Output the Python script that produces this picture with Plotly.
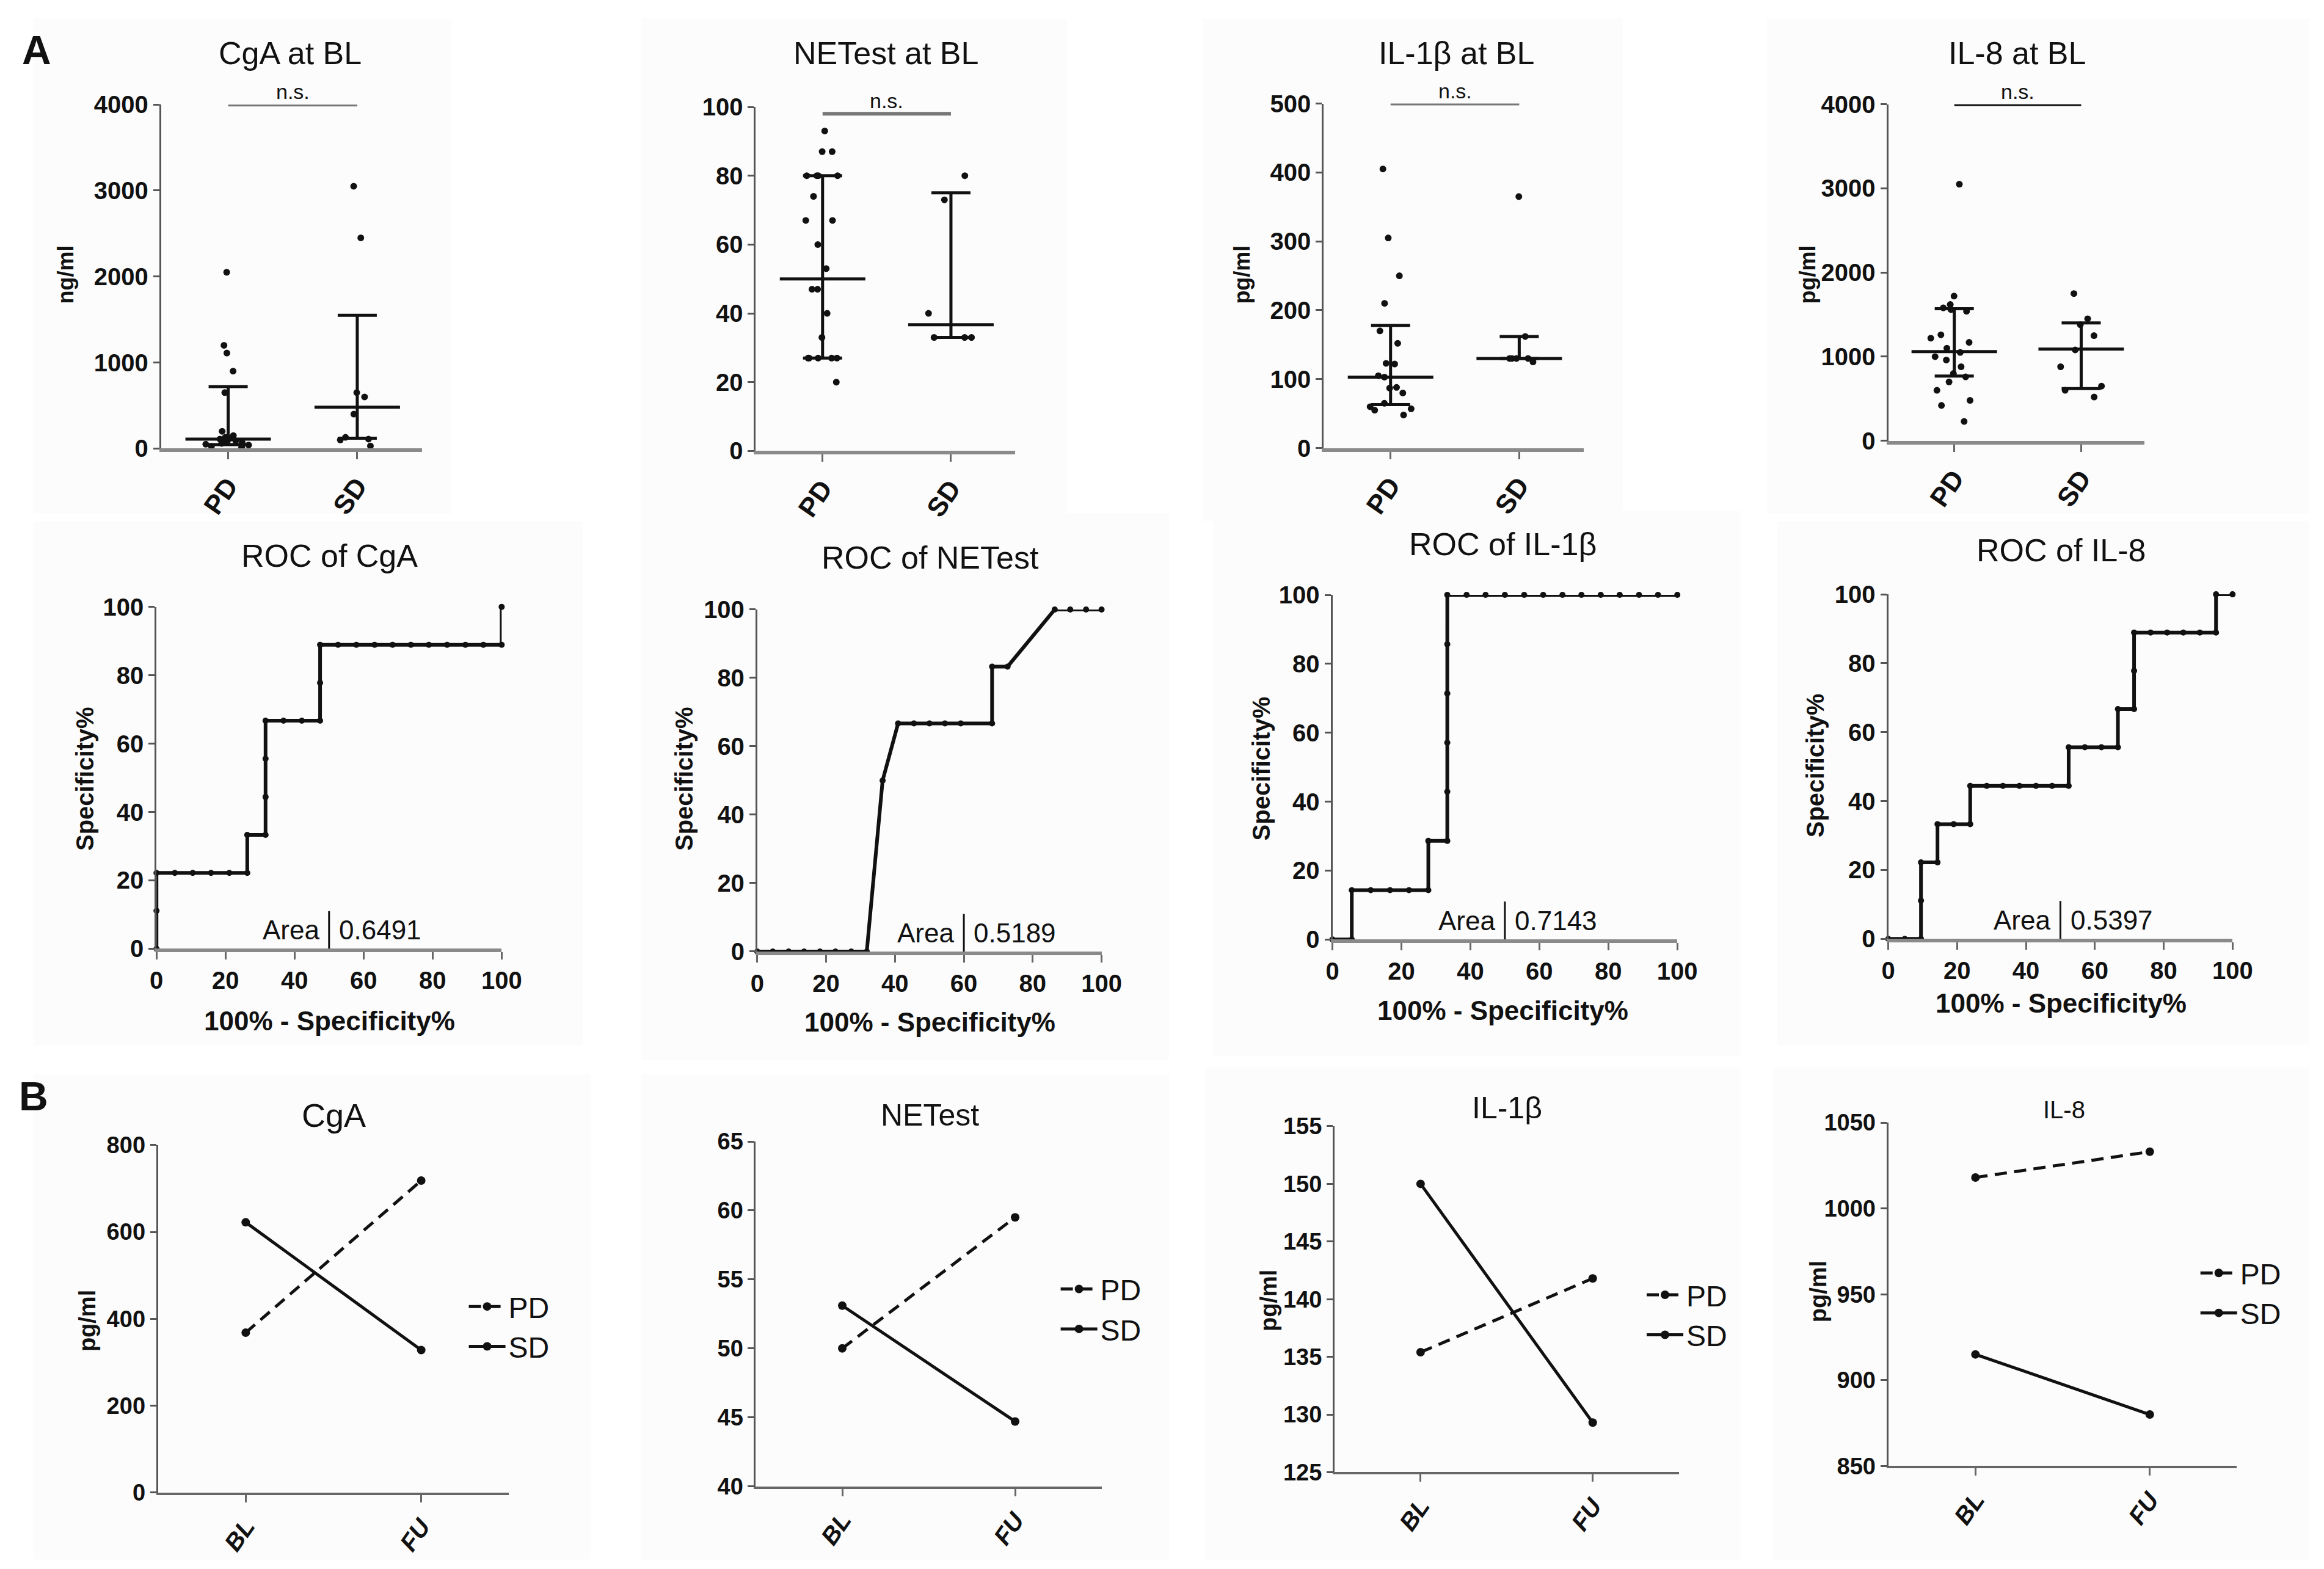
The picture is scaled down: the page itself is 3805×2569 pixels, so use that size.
import plotly.graph_objects as go

# ---------------- DATA ----------------
GROUPS = ["PD", "SD"]

# Row A1: scatter dot plots at baseline
CGA_PD = [2050, 1200, 1110, 900, 650, 200, 150, 130, 120, 110, 100, 90, 80, 70, 60, 50, 40, 25, 15]
CGA_SD = [3050, 2450, 650, 600, 400, 130, 110, 100, 30]
NET_PD = [93, 87, 87, 80, 80, 80, 80, 74, 67, 67, 60, 53, 47, 47, 40, 33, 27, 27, 27, 27, 27, 20]
NET_SD = [80, 73, 40, 33, 33, 33]
IL1_PD = [405, 305, 250, 210, 170, 152, 123, 122, 105, 103, 88, 87, 80, 65, 60, 57, 55, 48]
IL1_SD = [365, 162, 130, 130, 130, 130, 125]
IL8_PD = [3050, 1720, 1620, 1580, 1560, 1540, 1260, 1220, 1170, 1100, 1050, 1000, 960, 880, 800, 760, 700, 600, 480, 420, 230]
IL8_SD = [1750, 1450, 1380, 1250, 1080, 880, 650, 600, 520]

# medians and interquartile bars (PD, SD)
CGA_MED = [110, 480]
CGA_Q1 = [45, 120]
CGA_Q3 = [720, 1550]
NET_MED = [50, 36.7]
NET_Q1 = [27, 33]
NET_Q3 = [80, 75]
IL1_MED = [103, 130]
IL1_Q1 = [63, 130]
IL1_Q3 = [178, 162]
IL8_MED = [1060, 1090]
IL8_Q1 = [770, 620]
IL8_Q3 = [1570, 1400]

SCATTER_TITLES = ["CgA at BL", "NETest at BL", "IL-1β at BL", "IL-8 at BL"]
SCATTER_YLABELS = ["ng/ml", "", "pg/ml", "pg/ml"]
SCATTER_YMAX = [4000, 100, 500, 4000]
SCATTER_DTICK = [1000, 20, 100, 1000]
NS_LEVEL = [4000, 98, 500, 4000]

# Row A2: ROC curves (x = 100% - Specificity%, y = Specificity%)
ROC_CGA_X = [0, 0, 0, 5.3, 10.5, 15.8, 21.1, 26.3, 26.3, 31.6, 31.6, 31.6, 31.6, 36.8, 42.1, 47.4, 47.4, 47.4,
             52.6, 57.9, 63.2, 68.4, 73.7, 78.9, 84.2, 89.5, 94.7, 100, 100]
ROC_CGA_Y = [0, 11.1, 22.2, 22.2, 22.2, 22.2, 22.2, 22.2, 33.3, 33.3, 44.4, 55.6, 66.7, 66.7, 66.7, 66.7, 77.8, 88.9,
             88.9, 88.9, 88.9, 88.9, 88.9, 88.9, 88.9, 88.9, 88.9, 88.9, 100]
ROC_NET_X = [0, 4.5, 9.1, 13.6, 18.2, 22.7, 27.3, 31.8, 36.4, 40.9, 45.5, 50, 54.5, 59.1, 68.2, 68.2, 72.7, 86.4,
             90.9, 95.5, 100]
ROC_NET_Y = [0, 0, 0, 0, 0, 0, 0, 0, 50, 66.7, 66.7, 66.7, 66.7, 66.7, 66.7, 83.3, 83.3, 100, 100, 100, 100]
ROC_IL1_X = [0, 5.6, 5.6, 11.1, 16.7, 22.2, 27.8, 27.8, 33.3, 33.3, 33.3, 33.3, 33.3, 33.3, 38.9, 44.4, 50, 55.6,
             61.1, 66.7, 72.2, 77.8, 83.3, 88.9, 94.4, 100]
ROC_IL1_Y = [0, 0, 14.3, 14.3, 14.3, 14.3, 14.3, 28.6, 28.6, 42.9, 57.1, 71.4, 85.7, 100, 100, 100, 100, 100,
             100, 100, 100, 100, 100, 100, 100, 100]
ROC_IL8_X = [0, 4.8, 9.5, 9.5, 9.5, 14.3, 14.3, 19.0, 23.8, 23.8, 28.6, 33.3, 38.1, 42.9, 47.6, 52.4, 52.4, 57.1,
             61.9, 66.7, 66.7, 71.4, 71.4, 71.4, 76.2, 81.0, 85.7, 90.5, 95.2, 95.2, 100]
ROC_IL8_Y = [0, 0, 0, 11.1, 22.2, 22.2, 33.3, 33.3, 33.3, 44.4, 44.4, 44.4, 44.4, 44.4, 44.4, 44.4, 55.6, 55.6,
             55.6, 55.6, 66.7, 66.7, 77.8, 88.9, 88.9, 88.9, 88.9, 88.9, 88.9, 100, 100]
ROC_TITLES = ["ROC of CgA", "ROC of NETest", "ROC of IL-1β", "ROC of IL-8"]
ROC_AREA = ["0.6491", "0.5189", "0.7143", "0.5397"]
ROC_AREA_SEP = [50, 60, 50, 50]

# Row B: BL vs FU means
TIMEPOINTS = ["BL", "FU"]
B_TITLES = ["CgA", "NETest", "IL-1β", "IL-8"]
B_YLABELS = ["pg/ml", "", "pg/ml", "pg/ml"]
B_PD = [[368, 718], [50.0, 59.5], [135.4, 141.8], [1018, 1033]]
B_SD = [[622, 328], [53.1, 44.7], [150.0, 129.3], [915, 880]]
B_YRANGE = [[0, 800], [40, 65], [125, 155], [850, 1050]]
B_DTICK = [200, 5, 5, 50]

# ---------------- LAYOUT HELPERS ----------------
W, H = 3805, 2569
DW, DH = 1568.0, 1058.6   # reference coordinate frame


def px(X):
    return X / DW


def py(Y):
    return 1 - Y / DH


NARROW = "Liberation Sans Narrow, Arial Narrow, Liberation Sans, Arial"
SANS = "Liberation Sans, Arial"
BLACK = "#111111"

fig = go.Figure()
layout = dict(width=W, height=H, margin=dict(l=0, r=0, t=0, b=0),
              paper_bgcolor="white", plot_bgcolor="rgba(0,0,0,0)", showlegend=True)
annotations = []
shapes = []

# faint panel backgrounds
panels = [(15, 0, 300, 340), (430, 0, 720, 345), (813, 0, 1100, 345), (1198, 0, 1568, 340),
          (15, 345, 390, 705), (430, 340, 790, 715), (820, 338, 1180, 712), (1205, 345, 1568, 705),
          (15, 725, 395, 1058), (430, 725, 790, 1058), (815, 720, 1180, 1058), (1203, 720, 1568, 1058)]
for (x0, y0, x1, y1) in panels:
    shapes.append(dict(type="rect", xref="paper", yref="paper", x0=px(x0), x1=px(x1), y0=py(y1), y1=py(y0),
                       fillcolor="#fcfcfc", line=dict(width=0), layer="below"))

TICKFONT = dict(family=NARROW, size=40, color=BLACK, weight="bold")


def yaxis_cfg(dom, rng, dtick, anchor):
    return dict(domain=dom, range=rng, dtick=dtick, showgrid=False, zeroline=False, showline=True,
                linecolor="#555555", linewidth=3, ticks="outside", ticklen=10, tickwidth=3,
                tickcolor="#555555", tickfont=TICKFONT, anchor=anchor, fixedrange=True)


def text(x, y, s, size, bold=False, angle=0, family=NARROW, xanchor="center", yanchor="middle",
         xref="paper", yref="paper", color=BLACK):
    annotations.append(dict(x=x, y=y, xref=xref, yref=yref, text=s, showarrow=False, textangle=angle,
                            xanchor=xanchor, yanchor=yanchor,
                            font=dict(family=family, size=size, color=color,
                                      weight="bold" if bold else "normal")))


# ---------------- ROW A1 : scatter plots ----------------
sc_pd = [CGA_PD, NET_PD, IL1_PD, IL8_PD]
sc_sd = [CGA_SD, NET_SD, IL1_SD, IL8_SD]
sc_med = [CGA_MED, NET_MED, IL1_MED, IL8_MED]
sc_q1 = [CGA_Q1, NET_Q1, IL1_Q1, IL8_Q1]
sc_q3 = [CGA_Q3, NET_Q3, IL1_Q3, IL8_Q3]
sc_xdom = [(102, 280), (508, 685), (895.6, 1073), (1281, 1456)]
sc_ydom = [(59.2, 295.3), (60.8, 297), (58.5, 295), (59, 290)]
sc_title = [(190, 24), (597, 24), (986, 24), (1369, 24)]
sc_ylab = [(37, 176), None, (840, 176), (1226, 176)]
ns_color = ["#777777", "#777777", "#777777", BLACK]

for i in range(4):
    n = i + 1
    xa, ya = f"x{n}", f"y{n}"
    layout[f"xaxis{n}"] = dict(domain=[px(sc_xdom[i][0]), px(sc_xdom[i][1])], type="category",
                               categoryorder="array", categoryarray=GROUPS, range=[-0.52, 1.5],
                               showgrid=False, zeroline=False, showline=True, linecolor="#8a8a8a", linewidth=6,
                               ticks="outside", ticklen=12, tickwidth=3, tickcolor="#666666",
                               tickangle=-55, tickfont=dict(family=NARROW, size=44, color=BLACK, weight="bold"),
                               anchor=ya, fixedrange=True)
    layout[f"yaxis{n}"] = yaxis_cfg([py(sc_ydom[i][1]), py(sc_ydom[i][0])], [0, SCATTER_YMAX[i]],
                                    SCATTER_DTICK[i], xa)
    for g, vals in zip(GROUPS, [sc_pd[i], sc_sd[i]]):
        fig.add_trace(go.Box(y=vals, name=g, xaxis=xa, yaxis=ya, boxpoints="all", jitter=0.75, pointpos=0,
                             width=0.55, fillcolor="rgba(0,0,0,0)", line=dict(width=0, color="rgba(0,0,0,0)"),
                             marker=dict(color=BLACK, size=11), showlegend=False, hoverinfo="y"))
    med = sc_med[i]
    fig.add_trace(go.Scatter(
        x=GROUPS, y=med, xaxis=xa, yaxis=ya, mode="markers", showlegend=False, cliponaxis=False,
        marker=dict(symbol="line-ew", size=100, color=BLACK, line=dict(width=5, color=BLACK)),
        error_y=dict(type="data", symmetric=False,
                     array=[q - m for q, m in zip(sc_q3[i], med)],
                     arrayminus=[m - q for q, m in zip(sc_q1[i], med)],
                     width=32, thickness=5, color=BLACK)))
    # n.s. bracket
    fig.add_trace(go.Scatter(x=GROUPS, y=[NS_LEVEL[i], NS_LEVEL[i]], xaxis=xa, yaxis=ya, mode="lines",
                             line=dict(color=ns_color[i], width=6), showlegend=False, cliponaxis=False,
                             hoverinfo="skip"))
    text(0.5, NS_LEVEL[i], "n.s.", 34, xref=xa, yref=ya, yanchor="bottom", family=NARROW)
    text(px(sc_title[i][0]), py(sc_title[i][1]), SCATTER_TITLES[i], 52, family=SANS)
    if sc_ylab[i]:
        text(px(sc_ylab[i][0]), py(sc_ylab[i][1]), SCATTER_YLABELS[i], 36, bold=True, angle=-90, family=SANS)

# ---------------- ROW A2 : ROC curves ----------------
roc_x = [ROC_CGA_X, ROC_NET_X, ROC_IL1_X, ROC_IL8_X]
roc_y = [ROC_CGA_Y, ROC_NET_Y, ROC_IL1_Y, ROC_IL8_Y]
roc_xdom = [(98.9, 334.5), (509, 744), (901.6, 1137), (1281, 1516)]
roc_ydom = [(404, 638.7), (405.8, 640.6), (395.8, 632.3), (395.4, 631.9)]
roc_title = [(217, 369), (627, 370), (1018, 361), (1399, 365)]
roc_xlab = [(217, 688), (627, 689), (1018, 681), (1399, 676)]
roc_ylab = [(50, 522), (459, 522), (853, 515), (1231, 513)]

for i in range(4):
    n = i + 5
    xa, ya = f"x{n}", f"y{n}"
    layout[f"xaxis{n}"] = dict(domain=[px(roc_xdom[i][0]), px(roc_xdom[i][1])], range=[0, 100], dtick=20,
                               showgrid=False, zeroline=False, showline=True, linecolor="#8a8a8a", linewidth=6,
                               ticks="outside", ticklen=12, tickwidth=3, tickcolor="#666666",
                               tickfont=TICKFONT, anchor=ya, fixedrange=True)
    layout[f"yaxis{n}"] = yaxis_cfg([py(roc_ydom[i][1]), py(roc_ydom[i][0])], [0, 100], 20, xa)
    fig.add_trace(go.Scatter(x=roc_x[i], y=roc_y[i], xaxis=xa, yaxis=ya, mode="lines+markers",
                             line=dict(color=BLACK, width=6), marker=dict(color=BLACK, size=10),
                             showlegend=False, cliponaxis=False))
    sep = ROC_AREA_SEP[i]
    fig.add_trace(go.Scatter(x=[sep, sep], y=[0, 11], xaxis=xa, yaxis=ya, mode="lines",
                             line=dict(color=BLACK, width=3), showlegend=False, hoverinfo="skip"))
    text(sep - 2.5, 5.5, "Area", 44, xref=xa, yref=ya, xanchor="right")
    text(sep + 2.5, 5.5, ROC_AREA[i], 44, xref=xa, yref=ya, xanchor="left")
    text(px(roc_title[i][0]), py(roc_title[i][1]), ROC_TITLES[i], 52, family=SANS)
    text(px(roc_xlab[i][0]), py(roc_xlab[i][1]), "100% - Specificity%", 44, bold=True, family=SANS)
    text(px(roc_ylab[i][0]), py(roc_ylab[i][1]), "Specificity%", 40, bold=True, angle=-90, family=SANS)

# ---------------- ROW B : BL vs FU ----------------
b_xdom = [(99.9, 339.5), (508, 744), (903, 1138), (1281, 1519)]
b_ydom = [(773.4, 1012), (771, 1007.7), (760.5, 998), (758, 993.8)]
b_title = [(220, 753), (627, 753), (1021, 748), (1401, 749)]
b_title_size = [54, 50, 50, 40]
b_ylab = [(52, 894), None, (858, 880), (1233, 874)]
b_leg = [(310, 898), (714, 886), (1114, 890), (1492, 875)]

for i in range(4):
    n = i + 9
    xa, ya = f"x{n}", f"y{n}"
    leg = "legend" if i == 0 else f"legend{i + 1}"
    layout[f"xaxis{n}"] = dict(domain=[px(b_xdom[i][0]), px(b_xdom[i][1])], type="category",
                               categoryorder="array", categoryarray=TIMEPOINTS, range=[-0.5, 1.5],
                               showgrid=False, zeroline=False, showline=True, linecolor="#666666", linewidth=4,
                               ticks="outside", ticklen=12, tickwidth=3, tickcolor="#666666",
                               tickangle=-55, tickfont=dict(family=NARROW, size=40, color=BLACK, weight="bold",
                                                            style="italic"),
                               anchor=ya, fixedrange=True)
    layout[f"yaxis{n}"] = yaxis_cfg([py(b_ydom[i][1]), py(b_ydom[i][0])], B_YRANGE[i], B_DTICK[i], xa)
    layout[f"yaxis{n}"]["tickfont"] = dict(family=NARROW, size=38, color=BLACK, weight="bold")
    fig.add_trace(go.Scatter(x=TIMEPOINTS, y=B_PD[i], xaxis=xa, yaxis=ya, mode="lines+markers", name="PD",
                             line=dict(color=BLACK, width=5, dash="20px,12px"), marker=dict(color=BLACK, size=14),
                             legend=leg, legendgroup=f"pd{i}", cliponaxis=False))
    fig.add_trace(go.Scatter(x=TIMEPOINTS, y=B_SD[i], xaxis=xa, yaxis=ya, mode="lines+markers", name="SD",
                             line=dict(color=BLACK, width=5), marker=dict(color=BLACK, size=14),
                             legend=leg, legendgroup=f"sd{i}", cliponaxis=False))
    layout[leg] = dict(x=px(b_leg[i][0]), y=py(b_leg[i][1]), xanchor="left", yanchor="middle",
                       bgcolor="rgba(0,0,0,0)", itemwidth=60, tracegroupgap=30, traceorder="normal",
                       font=dict(family=NARROW, size=48, color=BLACK))
    text(px(b_title[i][0]), py(b_title[i][1]), B_TITLES[i], b_title_size[i], family=SANS)
    if b_ylab[i]:
        text(px(b_ylab[i][0]), py(b_ylab[i][1]), B_YLABELS[i], 38, bold=True, angle=-90, family=SANS)

# panel letters
text(px(17), py(22), "A", 66, bold=True, family=SANS)
text(px(15), py(740), "B", 66, bold=True, family=SANS)

layout["annotations"] = annotations
layout["shapes"] = shapes
fig.update_layout(**layout)
fig.write_html("out.html")
